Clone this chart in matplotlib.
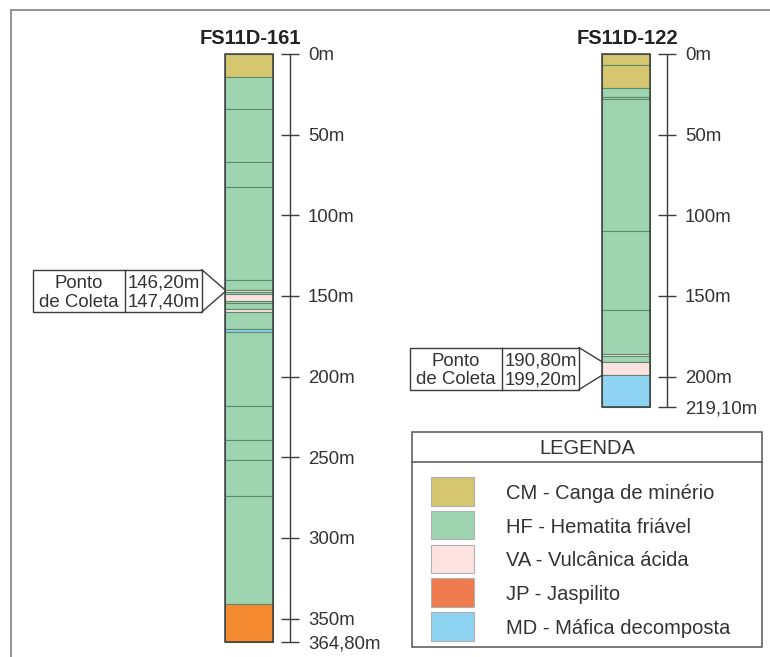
import matplotlib
matplotlib.use("Agg")
import matplotlib.pyplot as plt
from matplotlib.patches import Rectangle

plt.rcParams["font.family"] = ["Liberation Sans", "DejaVu Sans"]

# lithology colours (column) and legend
COLORS = {"CM": "#d6c670", "HF": "#9fd4b1", "VA": "#fde2e2",
          "JP": "#f5892f", "MD": "#8fd3f2"}
LEGEND_CODES = ["CM", "HF", "VA", "JP", "MD"]
LEGEND_LABELS = ["CM - Canga de minério", "HF - Hematita friável",
                 "VA - Vulcânica ácida", "JP - Jaspilito",
                 "MD - Máfica decomposta"]
LEGEND_COLORS = ["#d6c670", "#9fd4b1", "#fde2e2", "#ef7b4e", "#8fd3f2"]

# FS11D-161 (layer tops in m, lithology, total depth)
h161_name = "FS11D-161"
h161_tops = [0, 14, 34, 67, 82.5, 140, 146.2, 147.4, 149, 153, 154.2, 158,
             160, 170.7, 172.5, 218, 239, 252, 274, 341]
h161_liths = ["CM", "HF", "HF", "HF", "HF", "HF", "VA", "HF", "VA", "HF",
              "HF", "VA", "HF", "MD", "HF", "HF", "HF", "HF", "HF", "JP"]
h161_total = 364.8
h161_sample = (146.20, 147.40)
h161_ticks = [0, 50, 100, 150, 200, 250, 300, 350, 364.8]
h161_ticklabels = ["0m", "50m", "100m", "150m", "200m", "250m", "300m",
                   "350m", "364,80m"]

# FS11D-122
h122_name = "FS11D-122"
h122_tops = [0, 7, 21, 26.5, 28, 110, 159, 186, 187.3, 190.8, 199.2]
h122_liths = ["CM", "CM", "HF", "HF", "HF", "HF", "HF", "VA", "HF", "VA",
              "MD"]
h122_total = 219.1
h122_sample = (190.80, 199.20)
h122_ticks = [0, 50, 100, 150, 200, 219.1]
h122_ticklabels = ["0m", "50m", "100m", "150m", "200m", "219,10m"]

W, H = 770, 657
Y0, PX_PER_M = 54, 1.613       # pixel row of 0 m, pixels per metre
COL_W = 48
FS = 13.4
FS_LEG = 14.5
TXT = "#333333"
VA = "center_baseline"


def depth(ypx):
    return (ypx - Y0) / PX_PER_M


fig = plt.figure(figsize=(W / 100, H / 100), dpi=100)
ax = fig.add_axes([0, 0, 1, 1])
ax.set_xlim(0, W)
ax.set_ylim(depth(H), depth(0))
ax.axis("off")

pax = fig.add_axes([0, 0, 1, 1], zorder=3)
pax.set_xlim(0, W)
pax.set_ylim(H, 0)
pax.axis("off")
pax.patch.set_alpha(0)

# frame
pax.plot([10, W], [10, 10], color="#8a8a8a", lw=1.3, solid_capstyle="butt")
pax.plot([10.5, 10.5], [10, H], color="#8a8a8a", lw=1.3, solid_capstyle="butt")


def draw_hole(name, tops, liths, total, sample, ticks, ticklabels, col_left):
    bases = tops[1:] + [total]
    xc = col_left + COL_W / 2
    for top, base, lith in zip(tops, bases, liths):
        ax.bar(xc, base - top, bottom=top, width=COL_W, color=COLORS[lith],
               edgecolor="#5e8a6c", linewidth=0.8, zorder=2)
    ax.add_patch(Rectangle((col_left, 0), COL_W, total, fill=False,
                           edgecolor="#3c3c3c", lw=1.1, zorder=3))
    ax.text(xc + 1, depth(37), name, ha="center", va=VA, fontsize=14.5,
            fontweight="bold", color="#222222")

    # depth scale
    axis_x = col_left + COL_W + 17
    ax.vlines(axis_x, 0, total, color="#3c3c3c", lw=1.0)
    ax.hlines(ticks, axis_x - 9, axis_x + 9, color="#3c3c3c", lw=1.0)
    for t, lab in zip(ticks, ticklabels):
        ax.text(axis_x + 18, t, lab, ha="left", va=VA, fontsize=FS,
                color=TXT)

    # sample callout
    d1, d2 = sample
    mid = (d1 + d2) / 2
    bt, bb = mid - 13, mid + 13
    br = col_left - 23
    bl = br - 169
    ax.add_patch(Rectangle((bl, bt), br - bl, bb - bt, fill=True,
                           facecolor="white", edgecolor="#3c3c3c", lw=1.0,
                           zorder=4))
    ax.plot([bl + 92, bl + 92], [bt, bb], color="#3c3c3c", lw=1.0, zorder=5)
    ax.plot([br, col_left], [bt, d1], color="#3c3c3c", lw=1.0, zorder=5)
    ax.plot([br, col_left], [bb, d2], color="#3c3c3c", lw=1.0, zorder=5)
    ax.text(bl + 46, mid - 5.8, "Ponto", ha="center", va=VA,
            fontsize=FS, color=TXT, zorder=6)
    ax.text(bl + 46, mid + 5.8, "de Coleta", ha="center", va=VA,
            fontsize=FS, color=TXT, zorder=6)
    ax.text(bl + 92 + 39, mid - 5.8, f"{d1:.2f}m".replace(".", ","),
            ha="center", va=VA, fontsize=FS, color=TXT, zorder=6)
    ax.text(bl + 92 + 39, mid + 5.8, f"{d2:.2f}m".replace(".", ","),
            ha="center", va=VA, fontsize=FS, color=TXT, zorder=6)


draw_hole(h161_name, h161_tops, h161_liths, h161_total, h161_sample,
          h161_ticks, h161_ticklabels, 225)
draw_hole(h122_name, h122_tops, h122_liths, h122_total, h122_sample,
          h122_ticks, h122_ticklabels, 602)

# legend
lx0, lx1, ly0, ly1 = 412, 762, 432, 647
pax.add_patch(Rectangle((lx0, ly0), lx1 - lx0, ly1 - ly0, fill=False,
                        edgecolor="#555555", lw=1.1))
pax.plot([lx0, lx1], [462, 462], color="#555555", lw=1.1)
pax.text((lx0 + lx1) / 2, 447, "LEGENDA", ha="center", va=VA,
         fontsize=FS_LEG, color=TXT)
for i, (code, lab, col) in enumerate(zip(LEGEND_CODES, LEGEND_LABELS,
                                         LEGEND_COLORS)):
    top = 477 + i * 33.75
    pax.add_patch(Rectangle((431, top), 43, 28.5, facecolor=col,
                            edgecolor="#b0b0b0", lw=0.8))
    pax.text(506, top + 14.5, lab, ha="left", va=VA, fontsize=FS_LEG,
             color=TXT)

fig.savefig("out.png", dpi=100)
